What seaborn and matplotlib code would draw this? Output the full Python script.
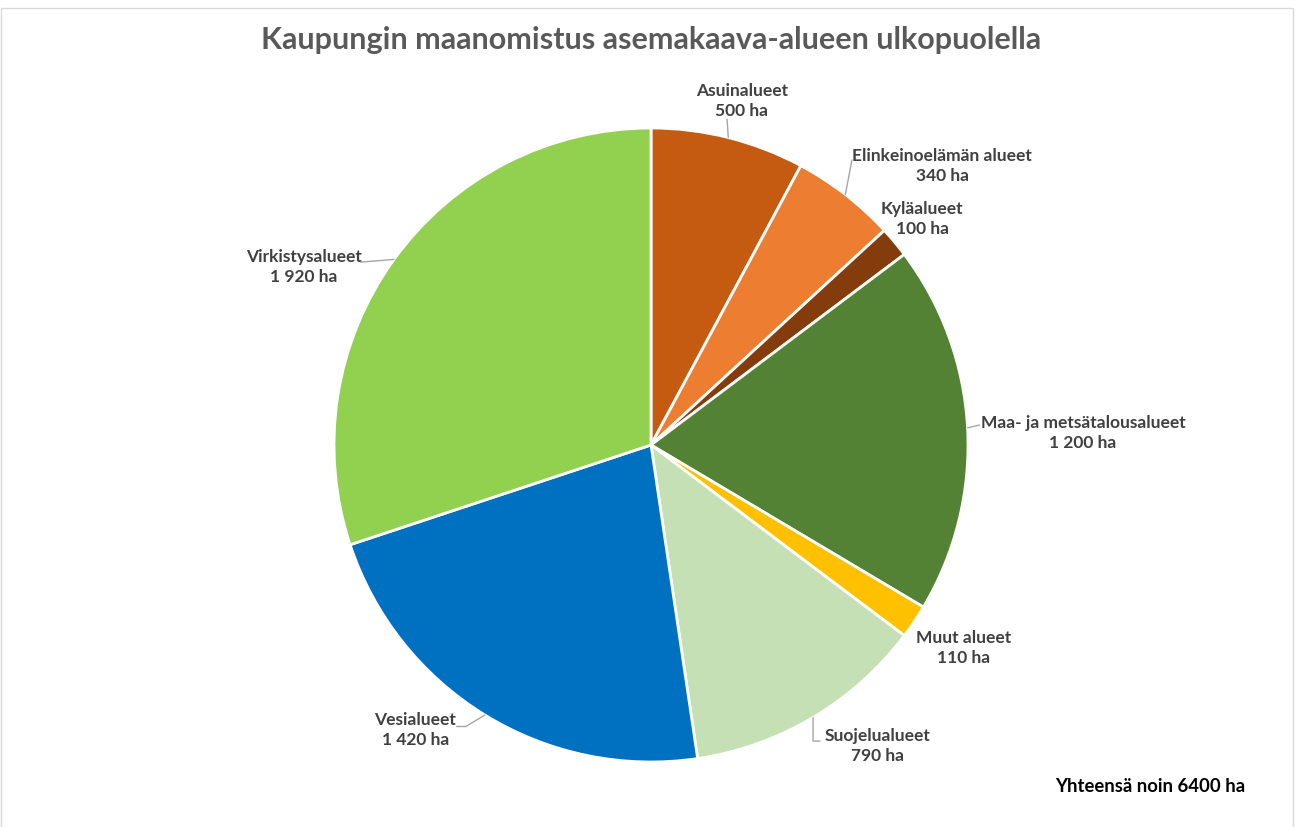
import numpy as np
import matplotlib.pyplot as plt
import seaborn as sns
from matplotlib.patches import Rectangle

# land ownership outside the detailed plan area (ha)
categories = ['Asuinalueet', 'Elinkeinoelämän alueet', 'Kyläalueet',
              'Maa- ja metsätalousalueet', 'Muut alueet', 'Suojelualueet',
              'Vesialueet', 'Virkistysalueet']
hectares = [500, 340, 100, 1200, 110, 790, 1420, 1920]
value_labels = ['500 ha', '340 ha', '100 ha', '1 200 ha', '110 ha',
                '790 ha', '1 420 ha', '1 920 ha']
colors = ['#C55A11', '#ED7D31', '#843C0C', '#548235', '#FFC000',
          '#C5E0B4', '#0070C0', '#92D050']

title = 'Kaupungin maanomistus asemakaava-alueen ulkopuolella'
total_note = 'Yhteensä noin 6400 ha'

# label layout (pie radius units, centre of the two-line label)
label_pos = [(0.287, 1.085), (0.918, 0.880), (0.855, 0.713), (1.363, 0.038),
             (0.987, -0.640), (0.716, -0.950), (-0.744, -0.899), (-1.095, 0.562)]
# leader line points after the wedge edge (None = no leader)
leaders = [[(0.240, 1.028)],
           [(0.634, 0.899)],
           None,
           [(1.036, 0.063)],
           None,
           [(0.511, -0.934), (0.533, -0.934)],
           [(-0.584, -0.888), (-0.613, -0.888)],
           [(-0.915, 0.577)]]

sns.set_theme(style='white')
plt.rcParams['font.family'] = ['Lato', 'DejaVu Sans']

W, H = 1298, 827
fig = plt.figure(figsize=(W / 100, H / 100), dpi=100)
cx, cy, r = 651, 445, 317
ax = fig.add_axes([(cx - r) / W, 1 - (cy + r) / H, 2 * r / W, 2 * r / H])

wedges, _ = ax.pie(hectares, colors=colors, startangle=90, counterclock=False,
                   radius=1.0,
                   wedgeprops=dict(edgecolor='white', linewidth=2))
ax.set_xlim(-1, 1)
ax.set_ylim(-1, 1)
ax.set_aspect('equal')
ax.axis('off')

txt_color = '#404040'
for w, name, val, pos, lead in zip(wedges, categories, value_labels, label_pos, leaders):
    ax.text(pos[0], pos[1], f'{name}\n{val}', ha='center', va='center',
            fontsize=12.5, fontweight='bold', color=txt_color,
            linespacing=1.3, clip_on=False)
    if lead:
        mid = np.deg2rad((w.theta1 + w.theta2) / 2)
        pts = [(np.cos(mid), np.sin(mid))] + lead
        xs, ys = zip(*pts)
        ax.plot(xs, ys, color='#A6A6A6', lw=1, clip_on=False)

fig.text(cx / W, 1 - 40 / H, title, ha='center', va='center',
         fontsize=22, fontweight='bold', color='#595959')
fig.text(1150 / W, 1 - 787 / H, total_note, ha='center', va='center',
         fontsize=13.3, fontweight='bold', color='black')

fig.patches.append(Rectangle((1 / W, -0.01), 1292 / W, 1.0, transform=fig.transFigure,
                             fill=False, edgecolor='#D9D9D9', lw=1))

fig.savefig('out.png', dpi=100, facecolor='white')
